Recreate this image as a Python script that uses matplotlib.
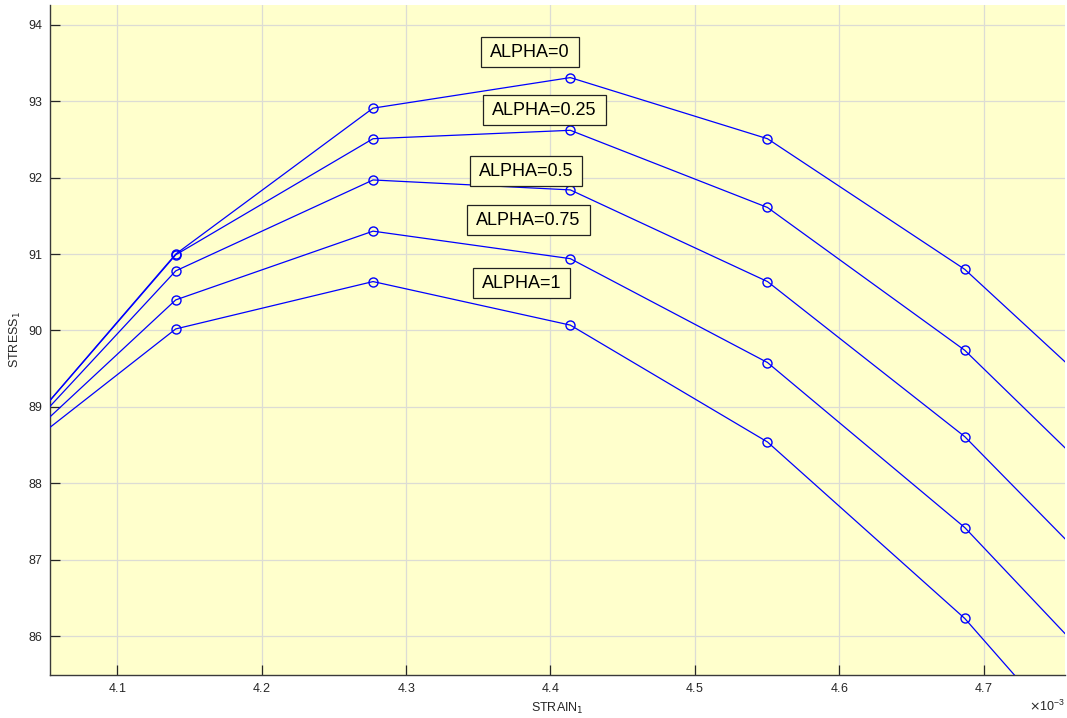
import matplotlib
matplotlib.use("Agg")
import matplotlib.pyplot as plt
from matplotlib.path import Path
import numpy as np

plt.rcParams['font.family'] = ['Liberation Sans', 'DejaVu Sans']

# strain values (x 1e-3)
strain = [4.0041e-3, 4.1406e-3, 4.2772e-3, 4.4138e-3, 4.5503e-3, 4.6869e-3, 4.8234e-3]

stress_a0 = [88.00, 91.00, 92.91, 93.31, 92.51, 90.80, 88.42]
stress_a025 = [88.00, 90.99, 92.51, 92.62, 91.61, 89.74, 87.23]
stress_a05 = [88.00, 90.78, 91.97, 91.84, 90.64, 88.61, 85.98]
stress_a075 = [88.00, 90.40, 91.30, 90.94, 89.58, 87.42, 84.69]
stress_a1 = [88.00, 90.02, 90.64, 90.07, 88.54, 86.23, 83.29]

series = [stress_a0, stress_a025, stress_a05, stress_a075, stress_a1]

labels = ['ALPHA=0', 'ALPHA=0.25', 'ALPHA=0.5', 'ALPHA=0.75', 'ALPHA=1']
label_x = [4.3857e-3, 4.3960e-3, 4.3830e-3, 4.3848e-3, 4.3800e-3]
label_y = [93.64, 92.885, 92.086, 91.445, 90.62]

xticks = [4.1e-3, 4.2e-3, 4.3e-3, 4.4e-3, 4.5e-3, 4.6e-3, 4.7e-3]
yticks = [86, 87, 88, 89, 90, 91, 92, 93, 94]

bg = '#ffffcc'


def wide_box(x0, y0, width, height, mutation_size):
    px = 0.5 * mutation_size
    py = 0.36 * mutation_size
    x0, y0 = x0 - px, y0 - py
    x1, y1 = x0 + width + 2 * px, y0 + height + 2 * py
    return Path([(x0, y0), (x1, y0), (x1, y1), (x0, y1), (x0, y0)], closed=True)


fig = plt.figure(figsize=(10.67, 7.18), dpi=100)
ax = fig.add_axes([0.0464, 0.0599, 0.9516, 0.9331])
ax.set_facecolor(bg)

for s in series:
    ax.plot(strain, s, color='#0000ff', linewidth=0.9, marker='o',
            markersize=6.5, markerfacecolor='none', markeredgewidth=1.0,
            markeredgecolor='#0000ff', zorder=3)

for t, x, y in zip(labels, label_x, label_y):
    ax.text(x, y, t, fontsize=13, ha='center', va='center', zorder=5,
            bbox=dict(boxstyle=wide_box, facecolor=bg,
                      edgecolor='#222222', linewidth=0.9))

ax.set_xlim(4.0532e-3, 4.7562e-3)
ax.set_ylim(85.49, 94.26)
ax.set_xticks(xticks)
ax.set_yticks(yticks)
ax.ticklabel_format(axis='x', style='sci', scilimits=(-3, -3), useMathText=True, useOffset=False)

ax.grid(True, color='#dcdcd4', linewidth=0.9, zorder=1)
ax.set_axisbelow(True)

for side in ['top', 'right']:
    ax.spines[side].set_visible(False)
for side in ['left', 'bottom']:
    ax.spines[side].set_color('#3a3a3a')
    ax.spines[side].set_linewidth(1.0)

ax.tick_params(axis='both', direction='in', length=7, width=0.9,
               colors='#262626', labelsize=9, pad=5)

ax.set_xlabel('STRAIN$_1$', fontsize=9, color='#262626', labelpad=4)
ax.set_ylabel('STRESS$_1$', fontsize=9, color='#262626', labelpad=4)
ax.xaxis.get_offset_text().set_fontsize(9)
ax.xaxis.get_offset_text().set_color('#262626')

fig.savefig('out.png', dpi=100, facecolor='white')
